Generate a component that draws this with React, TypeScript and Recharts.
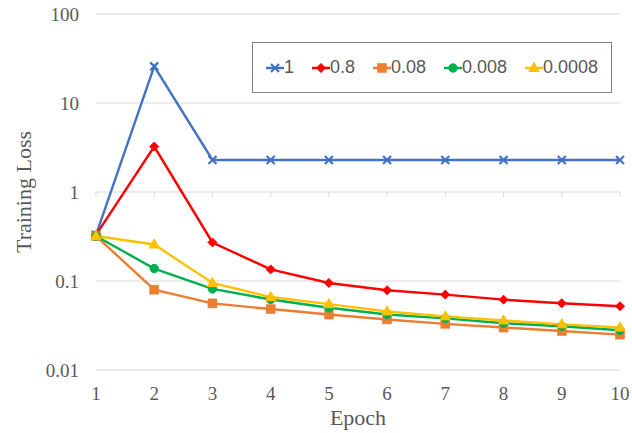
import React from 'react';
import { LineChart, Line, XAxis, YAxis, CartesianGrid, ReferenceLine, Label } from 'recharts';

const epochs = [1, 2, 3, 4, 5, 6, 7, 8, 9, 10];
const lr1 = [0.33, 25.8, 2.29, 2.29, 2.29, 2.29, 2.29, 2.29, 2.29, 2.29];
const lr08 = [0.33, 3.24, 0.271, 0.135, 0.095, 0.0787, 0.0703, 0.0617, 0.0563, 0.0521];
const lr008 = [0.32, 0.08, 0.056, 0.0484, 0.042, 0.037, 0.033, 0.03, 0.0274, 0.025];
const lr0008 = [0.32, 0.138, 0.0814, 0.062, 0.05, 0.042, 0.038, 0.0335, 0.031, 0.028];
const lr00008 = [0.32, 0.257, 0.095, 0.066, 0.055, 0.0455, 0.04, 0.036, 0.0326, 0.03];
const yTicks = [0.01, 0.1, 1, 10, 100];

const series = [
  { key: 'a', name: '1', values: lr1, color: '#4472C4', marker: 'x' },
  { key: 'b', name: '0.8', values: lr08, color: '#FF0000', marker: 'diamond' },
  { key: 'c', name: '0.08', values: lr008, color: '#ED7D31', marker: 'square' },
  { key: 'd', name: '0.008', values: lr0008, color: '#00B050', marker: 'circle' },
  { key: 'e', name: '0.0008', values: lr00008, color: '#FFC000', marker: 'triangle' },
];

const data = epochs.map((e, i) => {
  const row: any = { epoch: e };
  series.forEach((s) => { row[s.key] = s.values[i]; });
  return row;
});

function MarkerShape({ cx, cy, marker, color }: any) {
  if (cx == null || cy == null) return null;
  switch (marker) {
    case 'x':
      return (
        <g stroke={color} strokeWidth={2.2}>
          <line x1={cx - 4} y1={cy - 4} x2={cx + 4} y2={cy + 4} />
          <line x1={cx - 4} y1={cy + 4} x2={cx + 4} y2={cy - 4} />
        </g>
      );
    case 'diamond':
      return <path d={`M${cx},${cy - 4.5}L${cx + 4.5},${cy}L${cx},${cy + 4.5}L${cx - 4.5},${cy}Z`} fill={color} stroke={color} />;
    case 'square':
      return <rect x={cx - 4.5} y={cy - 4.5} width={9} height={9} fill={color} stroke={color} strokeWidth={0.5} />;
    case 'circle':
      return <circle cx={cx} cy={cy} r={4.2} fill={color} stroke={color} />;
    case 'triangle':
      return <path d={`M${cx},${cy - 5.5}L${cx + 5.2},${cy + 3.5}L${cx - 5.2},${cy + 3.5}Z`} fill={color} stroke={color} />;
    default:
      return null;
  }
}

function LegendBox() {
  return (
    <div style={{ position: 'absolute', left: 252, top: 42, width: 360, height: 51, border: '1px solid #7f7f7f', boxSizing: 'border-box', background: '#fff', display: 'flex', alignItems: 'center', justifyContent: 'center', gap: 18, fontFamily: '"Liberation Sans", Arial, sans-serif', fontSize: 18, color: '#595959' }}>
      {series.map((s) => (
        <div key={s.key} style={{ display: 'flex', alignItems: 'center' }}>
          <svg width={18} height={14} style={{ display: 'block' }}>
            <line x1={0} y1={7} x2={18} y2={7} stroke={s.color} strokeWidth={2.5} />
            <MarkerShape cx={9} cy={7} marker={s.marker} color={s.color} />
          </svg>
          <span>{s.name}</span>
        </div>
      ))}
    </div>
  );
}

const tickFont = { fontFamily: '"Liberation Serif", "Times New Roman", serif', fontSize: 19, fill: '#595959' };

export default function App() {
  return (
    <div style={{ position: 'absolute', left: 0, top: 0, width: 632, height: 433, background: '#fff' }}>
      <LineChart width={632} height={433} data={data} margin={{ top: 14, right: 12, bottom: 0, left: 0 }}>
        <CartesianGrid vertical={false} stroke="#d9d9d9" strokeWidth={1} />
        <XAxis
          dataKey="epoch"
          type="number"
          domain={[1, 10]}
          ticks={epochs}
          axisLine={false}
          tickLine={false}
          tickMargin={11}
          height={63}
          tick={tickFont}
        >
          <Label
            content={({ viewBox }: any) => (
              <text x={viewBox.x + viewBox.width / 2} y={viewBox.y + 47} textAnchor="middle" dominantBaseline="central" style={{ fontFamily: '"Liberation Serif", "Times New Roman", serif', fontSize: 22, fill: '#595959' }}>
                Epoch
              </text>
            )}
          />
        </XAxis>
        <YAxis
          scale="log"
          domain={[0.01, 100]}
          ticks={yTicks}
          allowDataOverflow
          axisLine={false}
          tickLine={false}
          tickMargin={11}
          width={96}
          tick={tickFont}
          tickFormatter={(v: number) => String(v)}
        >
          <Label
            content={({ viewBox }: any) => {
              const x = viewBox.x + 23;
              const y = viewBox.y + viewBox.height / 2;
              return (
                <text x={x} y={y} transform={`rotate(-90, ${x}, ${y})`} textAnchor="middle" dominantBaseline="central" style={{ fontFamily: '"Liberation Serif", "Times New Roman", serif', fontSize: 22, fill: '#595959' }}>
                  Training Loss
                </text>
              );
            }}
          />
        </YAxis>
        {epochs.map((e) => (
          <ReferenceLine key={e} segment={[{ x: e, y: 1 }, { x: e, y: 0.88 }]} stroke="#d9d9d9" strokeWidth={1} ifOverflow="visible" />
        ))}
        {series.map((s) => (
          <Line
            key={s.key}
            dataKey={s.key}
            name={s.name}
            stroke={s.color}
            strokeWidth={2.4}
            isAnimationActive={false}
            dot={(p: any) => <MarkerShape key={`${s.key}-${p.index}`} cx={p.cx} cy={p.cy} marker={s.marker} color={s.color} />}
            activeDot={false}
          />
        ))}
      </LineChart>
      <LegendBox />
    </div>
  );
}
